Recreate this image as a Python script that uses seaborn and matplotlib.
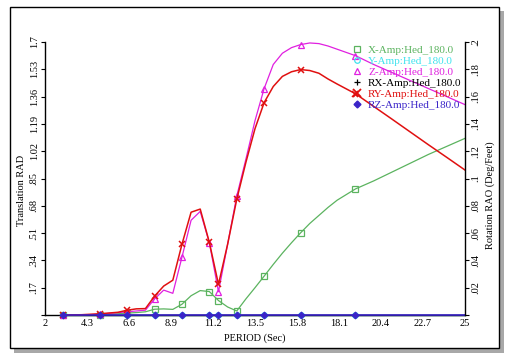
import matplotlib
matplotlib.use("Agg")
import matplotlib.pyplot as plt
import seaborn as sns
import pandas as pd
from matplotlib.lines import Line2D
from matplotlib.patches import Rectangle

# ---------------- data ----------------
period = [3, 4, 5, 6, 6.5, 7, 7.5, 8, 8.5, 9, 9.5, 10, 10.5, 11, 11.5, 12, 12.5,
          13, 13.5, 14, 14.5, 15, 15.5, 16, 16.5, 17, 17.5, 18, 19, 20, 21, 22, 23, 24, 25]

x_amp = [0, 0.001, 0.003, 0.008, 0.012, 0.015, 0.02, 0.036, 0.038, 0.035, 0.067, 0.12, 0.152,
         0.146, 0.09, 0.05, 0.025, 0.10, 0.17, 0.242, 0.315, 0.385, 0.45, 0.512, 0.57, 0.62,
         0.67, 0.715, 0.785, 0.835, 0.89, 0.945, 1.0, 1.05, 1.10]
y_amp = [0.0] * len(period)
z_amp = [0, 0, 0.005, 0.015, 0.02, 0.025, 0.03, 0.10, 0.155, 0.135, 0.36, 0.59, 0.645, 0.45,
         0.145, 0.44, 0.74, 0.97, 1.21, 1.41, 1.56, 1.63, 1.665, 1.684, 1.694, 1.69, 1.675,
         1.655, 1.615, 1.56, 1.51, 1.46, 1.41, 1.36, 1.31]
# rotations (Deg/Feet, right axis)
rx_amp = [0.0] * len(period)
ry_amp = [0, 0.0002, 0.0009, 0.002, 0.0035, 0.0045, 0.0047, 0.0138, 0.0212, 0.0255, 0.0518,
          0.0753, 0.0776, 0.0532, 0.0224, 0.0518, 0.0847, 0.1118, 0.1365, 0.1556, 0.1674,
          0.1748, 0.1782, 0.1798, 0.1791, 0.1771, 0.1729, 0.1692, 0.1621, 0.1528, 0.1435,
          0.1341, 0.1247, 0.1155, 0.1062]
rz_amp = [0.0] * len(period)

marker_periods = [3, 5, 6.5, 8, 9.5, 11, 11.5, 12.5, 14, 16, 19]

x_ticks = [2, 4.3, 6.6, 8.9, 11.2, 13.5, 15.8, 18.1, 20.4, 22.7, 25]
x_tick_labels = ["2", "4.3", "6.6", "8.9", "11.2", "13.5", "15.8", "18.1", "20.4", "22.7", "25"]
yl_ticks = [0, 0.17, 0.34, 0.51, 0.68, 0.85, 1.02, 1.19, 1.36, 1.53, 1.7]
yl_tick_labels = ["", ".17", ".34", ".51", ".68", ".85", "1.02", "1.19", "1.36", "1.53", "1.7"]
yr_ticks = [0, 0.02, 0.04, 0.06, 0.08, 0.1, 0.12, 0.14, 0.16, 0.18, 0.2]
yr_tick_labels = ["", ".02", ".04", ".06", ".08", ".1", ".12", ".14", ".16", ".18", ".2"]

series_names = ["X-Amp:Hed_180.0", "Y-Amp:Hed_180.0", "Z-Amp:Hed_180.0",
                "RX-Amp:Hed_180.0", "RY-Amp:Hed_180.0", "RZ-Amp:Hed_180.0"]

# ---------------- style ----------------
FONT = "Liberation Serif"
plt.rcParams["font.family"] = [FONT, "DejaVu Serif"]
FS = 7.5
FS_LEG = 8

c_green = "#5bb35f"
c_cyan = "#3fe3ee"
c_mag = "#e020e0"
c_black = "#000000"
c_red = "#e01010"
c_blue = "#3a24c8"

W, H = 515, 362
fig = plt.figure(figsize=(W / 100, H / 100), dpi=100)

# outer frame with shadow
def px_rect(x0, y0, x1, y1, **kw):
    return Rectangle((x0 / W, 1 - y1 / H), (x1 - x0) / W, (y1 - y0) / H,
                     transform=fig.transFigure, **kw)

fig.patches.append(px_rect(14, 11, 504, 353, facecolor="#a8a8a8", edgecolor="none", zorder=-3))
fig.patches.append(px_rect(10, 7, 499, 348, facecolor="white", edgecolor="black", lw=1.0, zorder=-2))

ax = fig.add_axes([45 / W, 1 - 315 / H, 420 / W, 273 / H])
ax.set_facecolor("none")
ax2 = ax.twinx()
ax2.set_facecolor("none")

df = pd.DataFrame({"period": period, "x": x_amp, "y": y_amp, "z": z_amp,
                   "rx": rx_amp, "ry": ry_amp, "rz": rz_amp})
dm = df[df["period"].isin(marker_periods)]

# left-axis series
sns.lineplot(data=df, x="period", y="x", ax=ax, color=c_green, lw=0.9, clip_on=False)
sns.lineplot(data=dm, x="period", y="x", ax=ax, color=c_green, marker="s", linestyle="",
             markerfacecolor="none", markeredgecolor=c_green, markersize=4.5, mew=0.9, clip_on=False)
sns.lineplot(data=df, x="period", y="y", ax=ax, color=c_cyan, lw=0.9, clip_on=False)
sns.lineplot(data=dm, x="period", y="y", ax=ax, color=c_cyan, marker="o", linestyle="",
             markerfacecolor="none", markeredgecolor=c_cyan, markersize=4, mew=0.9, clip_on=False)
sns.lineplot(data=df, x="period", y="z", ax=ax, color=c_mag, lw=0.9, clip_on=False)
sns.lineplot(data=dm, x="period", y="z", ax=ax, color=c_mag, marker="^", linestyle="",
             markerfacecolor="none", markeredgecolor=c_mag, markersize=4, mew=0.9, clip_on=False)

# right-axis series
sns.lineplot(data=df, x="period", y="rx", ax=ax2, color=c_black, lw=0.9, clip_on=False)
sns.lineplot(data=df, x="period", y="ry", ax=ax2, color=c_red, lw=1.1, clip_on=False)
sns.lineplot(data=dm, x="period", y="ry", ax=ax2, color=c_red, marker="x", linestyle="",
             markeredgecolor=c_red, markersize=4.5, mew=1.1, clip_on=False)
sns.lineplot(data=df, x="period", y="rz", ax=ax2, color=c_blue, lw=1.2, clip_on=False)
sns.lineplot(data=dm, x="period", y="rz", ax=ax2, color=c_blue, marker="D", linestyle="",
             markerfacecolor=c_blue, markeredgecolor=c_blue, markersize=3.5, clip_on=False)

for a in (ax, ax2):
    a.set_xlim(2, 25)
    a.set_xlabel("")
    a.set_ylabel("")
    a.spines["top"].set_visible(False)
ax.set_ylim(0, 1.7)
ax2.set_ylim(0, 0.2)

ax.spines["right"].set_visible(False)
ax2.spines["left"].set_visible(False)
ax2.spines["bottom"].set_visible(False)
for s in ("left", "bottom"):
    ax.spines[s].set_linewidth(1.0)
    ax.spines[s].set_color("black")
ax2.spines["right"].set_linewidth(1.0)

ax.set_xticks(x_ticks)
ax.set_xticklabels(x_tick_labels, fontsize=FS, family=FONT)
ax.tick_params(axis="x", length=0, pad=3)

ax.set_yticks(yl_ticks)
ax.set_yticklabels(yl_tick_labels, fontsize=FS, family=FONT, rotation=90, va="center")
ax.tick_params(axis="y", length=3, width=0.8, pad=1.5)

ax2.set_yticks(yr_ticks)
ax2.set_yticklabels(yr_tick_labels, fontsize=FS, family=FONT, rotation=90, va="center")
ax2.tick_params(axis="y", length=3, width=0.8, pad=1.5)

fig.text(255 / W, 1 - 338 / H, "PERIOD (Sec)", fontsize=FS, family=FONT, ha="center", va="center")
fig.text(22 / W, 1 - 190 / H, "Translation RAD", fontsize=FS, family=FONT, rotation=90,
         ha="center", va="center")
fig.text(490 / W, 1 - 195 / H, "Rotation RAO (Deg/Feet)", fontsize=FS, family=FONT, rotation=90,
         ha="center", va="center")

handles = [
    Line2D([], [], linestyle="", marker="s", markersize=4, markerfacecolor="none",
           markeredgecolor=c_green, mew=0.9),
    Line2D([], [], linestyle="", marker="o", markersize=4, markerfacecolor="none",
           markeredgecolor=c_cyan, mew=0.9),
    Line2D([], [], linestyle="", marker="^", markersize=4, markerfacecolor="none",
           markeredgecolor=c_mag, mew=0.9),
    Line2D([], [], linestyle="", marker="+", markersize=5, color=c_black, mew=0.9),
    Line2D([], [], linestyle="", marker="x", markersize=5.5, color=c_red, mew=1.3),
    Line2D([], [], linestyle="", marker="D", markersize=3.5, color=c_blue),
]
leg = ax2.legend(handles, series_names, loc="upper right", bbox_to_anchor=(1.0, 1.0),
                 borderaxespad=0, frameon=True, fancybox=False, framealpha=0,
                 edgecolor="black", prop={"family": FONT, "size": FS_LEG},
                 handlelength=0.8, handletextpad=0.6, labelspacing=0.1,
                 borderpad=0.3)
leg.get_frame().set_linewidth(1.0)
for t, c in zip(leg.get_texts(), [c_green, c_cyan, c_mag, c_black, c_red, c_blue]):
    t.set_color(c)

fig.savefig("out.png", dpi=100)
